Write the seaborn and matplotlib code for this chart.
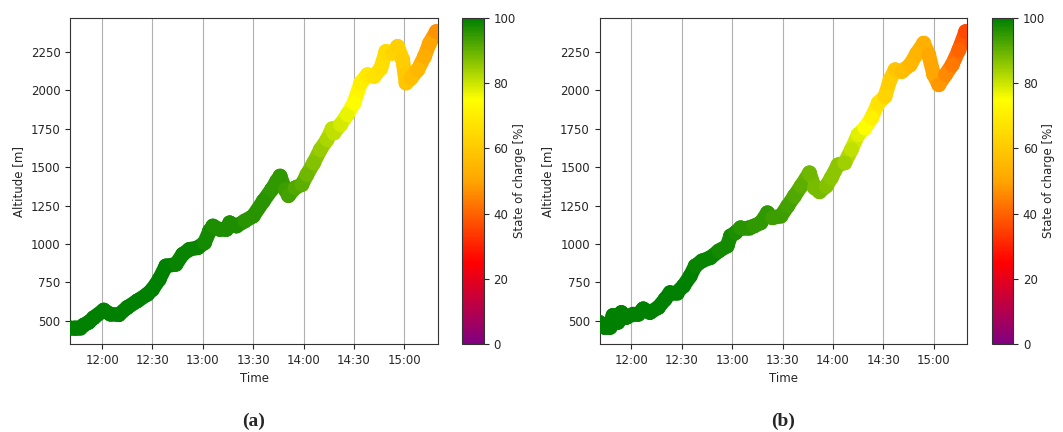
import numpy as np
import pandas as pd
import matplotlib
matplotlib.use("Agg")
import matplotlib.pyplot as plt
import matplotlib.dates as mdates
from matplotlib.colors import LinearSegmentedColormap, Normalize
from matplotlib.collections import LineCollection
import seaborn as sns

# Flight (a): time of day, altitude [m], state of charge [%]
time_a = ["11:41", "11:44", "11:47", "11:49", "11:52", "11:55", "12:01", "12:05",
          "12:10", "12:15", "12:21", "12:27", "12:30", "12:34", "12:38", "12:44",
          "12:48", "12:52", "12:57", "13:01", "13:04", "13:06", "13:10", "13:14",
          "13:16", "13:20", "13:25", "13:30", "13:36", "13:41", "13:44", "13:46",
          "13:49", "13:51", "13:55", "13:59", "14:02", "14:06", "14:10", "14:14",
          "14:17", "14:18", "14:22", "14:26", "14:30", "14:34", "14:38", "14:42",
          "14:46", "14:49", "14:53", "14:56", "14:59", "15:01", "15:04", "15:08",
          "15:12", "15:15", "15:19"]
alt_a = [455, 455, 455, 472, 490, 520, 570, 543,
         540, 587, 630, 673, 705, 770, 857, 868,
         933, 965, 976, 1008, 1085, 1117, 1095, 1095,
         1138, 1117, 1150, 1182, 1279, 1355, 1409, 1442,
         1355, 1315, 1366, 1387, 1452, 1528, 1615, 1680,
         1750, 1723, 1777, 1842, 1918, 2048, 2102, 2091,
         2145, 2253, 2242, 2286, 2199, 2048, 2080, 2134,
         2221, 2307, 2383]
soc_a = [100, 100, 100, 100, 100, 100, 100, 100,
         100, 100, 100, 100, 100, 100, 100, 99,
         99, 99, 99, 98, 98, 97, 97, 97,
         97, 97, 96, 96, 96, 95, 95, 95,
         94, 93, 92, 91, 89, 87, 85, 83,
         81, 81, 79, 77, 74, 70, 68, 67,
         66, 65, 63, 62, 61, 59, 57, 55,
         52, 50, 47]

# Flight (b)
time_b = ["11:41", "11:44", "11:47", "11:49", "11:52", "11:54", "11:57", "12:01",
          "12:04", "12:07", "12:11", "12:16", "12:20", "12:23", "12:27", "12:31",
          "12:35", "12:38", "12:42", "12:47", "12:52", "12:57", "12:59", "13:02",
          "13:05", "13:10", "13:13", "13:17", "13:21", "13:24", "13:29", "13:33",
          "13:37", "13:41", "13:46", "13:49", "13:52", "13:56", "13:59", "14:03",
          "14:07", "14:11", "14:15", "14:19", "14:23", "14:27", "14:31", "14:34",
          "14:37", "14:41", "14:46", "14:50", "14:54", "14:57", "15:00", "15:03",
          "15:07", "15:11", "15:15", "15:19"]
alt_b = [490, 457, 457, 535, 490, 554, 522, 543,
         543, 578, 554, 587, 640, 684, 684, 727,
         792, 857, 890, 911, 955, 987, 1052, 1074,
         1106, 1106, 1117, 1138, 1203, 1171, 1182, 1247,
         1312, 1377, 1463, 1366, 1340, 1377, 1431, 1515,
         1528, 1615, 1712, 1755, 1820, 1918, 1961, 2069,
         2134, 2123, 2167, 2242, 2307, 2232, 2102, 2037,
         2102, 2167, 2264, 2383]
soc_b = [100, 100, 100, 100, 100, 100, 100, 100,
         100, 100, 100, 100, 100, 100, 100, 100,
         100, 99, 99, 99, 98, 98, 98, 97,
         96, 96, 95, 95, 95, 94, 94, 93,
         92, 91, 89, 88, 88, 87, 86, 86,
         84, 81, 78, 75, 71, 67, 63, 61,
         59, 57, 55, 54, 53, 51, 50, 48,
         46, 43, 40, 36]

soc_cmap = LinearSegmentedColormap.from_list(
    "soc", ["purple", "red", "orange", "yellow", "green"])
norm = Normalize(0, 100)


def to_frame(times, alt, soc):
    t = pd.to_datetime(["2021-07-01 " + s for s in times])
    return pd.DataFrame({"time": t, "altitude": alt, "soc": soc})


sns.set_style("ticks")
plt.rcParams["font.family"] = ["DejaVu Sans"]
plt.rcParams["font.size"] = 8.5

fig = plt.figure(figsize=(10.63, 4.32), dpi=100)
panels = [
    (to_frame(time_a, alt_a, soc_a), [0.066, 0.204, 0.346, 0.754], [0.435, 0.204, 0.020, 0.754], "(a)"),
    (to_frame(time_b, alt_b, soc_b), [0.564, 0.204, 0.346, 0.754], [0.933, 0.204, 0.020, 0.754], "(b)"),
]

for df, pos, cpos, label in panels:
    ax = fig.add_axes(pos)
    cax = fig.add_axes(cpos)
    x = mdates.date2num(df["time"])
    pts = np.column_stack([x, df["altitude"]]).reshape(-1, 1, 2)
    segs = np.concatenate([pts[:-1], pts[1:]], axis=1)
    lc = LineCollection(segs, cmap=soc_cmap, norm=norm, linewidths=10.5,
                        capstyle="round", joinstyle="round", zorder=2)
    lc.set_array((df["soc"].values[:-1] + df["soc"].values[1:]) / 2)
    ax.add_collection(lc)
    sns.scatterplot(data=df, x="time", y="altitude", hue="soc", palette=soc_cmap,
                    hue_norm=(0, 100), s=115, linewidth=0, legend=False, ax=ax, zorder=3)
    ax.set_xlim(pd.Timestamp("2021-07-01 11:41"), pd.Timestamp("2021-07-01 15:20"))
    ax.set_ylim(350, 2470)
    ax.xaxis.set_major_locator(mdates.MinuteLocator(byminute=[0, 30]))
    ax.xaxis.set_major_formatter(mdates.DateFormatter("%H:%M"))
    ax.set_yticks([500, 750, 1000, 1250, 1500, 1750, 2000, 2250])
    ax.grid(axis="x", color="#b0b0b0", linewidth=0.8)
    ax.set_axisbelow(True)
    ax.set_xlabel("Time")
    ax.set_ylabel("Altitude [m]")
    for sp in ax.spines.values():
        sp.set_color("#333333")
    sm = plt.cm.ScalarMappable(cmap=soc_cmap, norm=norm)
    cb = fig.colorbar(sm, cax=cax)
    cb.set_label("State of charge [%]", labelpad=-2)
    cb.outline.set_edgecolor("#333333")
    fig.text(pos[0] + pos[2] / 2, 0.005, label, ha="center", va="bottom",
             fontsize=14, fontweight="bold", family=["Liberation Serif"])

fig.savefig("out.png", dpi=100)
